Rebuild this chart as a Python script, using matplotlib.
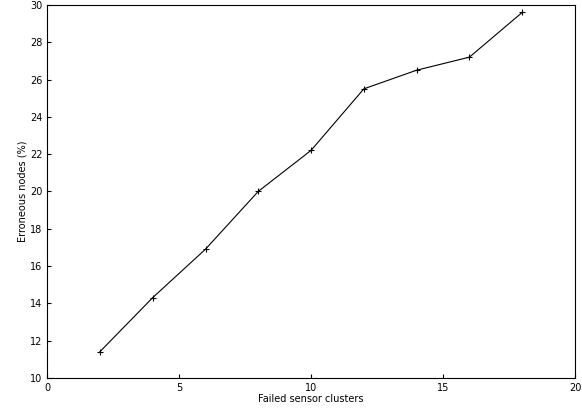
import matplotlib
matplotlib.use("Agg")
import matplotlib.pyplot as plt

clusters = [2, 4, 6, 8, 10, 12, 14, 16, 18]
erroneous = [11.4, 14.3, 16.9, 20.0, 22.2, 25.5, 26.5, 27.2, 29.6]
xticks = [0, 5, 10, 15, 20]
yticks = [10, 12, 14, 16, 18, 20, 22, 24, 26, 28, 30]

fig = plt.figure(figsize=(5.82, 4.12), dpi=100)
ax = fig.add_axes([0.081, 0.083, 0.907, 0.905])
ax.plot(clusters, erroneous, color="black", lw=0.8, marker="+", ms=4, mew=0.8)
ax.set_xlim(0, 20)
ax.set_ylim(10, 30)
ax.set_xticks(xticks)
ax.set_yticks(yticks)
ax.tick_params(direction="in", labelsize=7, length=3)
ax.set_xlabel("Failed sensor clusters", fontsize=7, labelpad=1)
ax.set_ylabel("Erroneous nodes (%)", fontsize=7, labelpad=2)
for s in ax.spines.values():
    s.set_linewidth(0.8)
fig.savefig("out.png", dpi=100)
